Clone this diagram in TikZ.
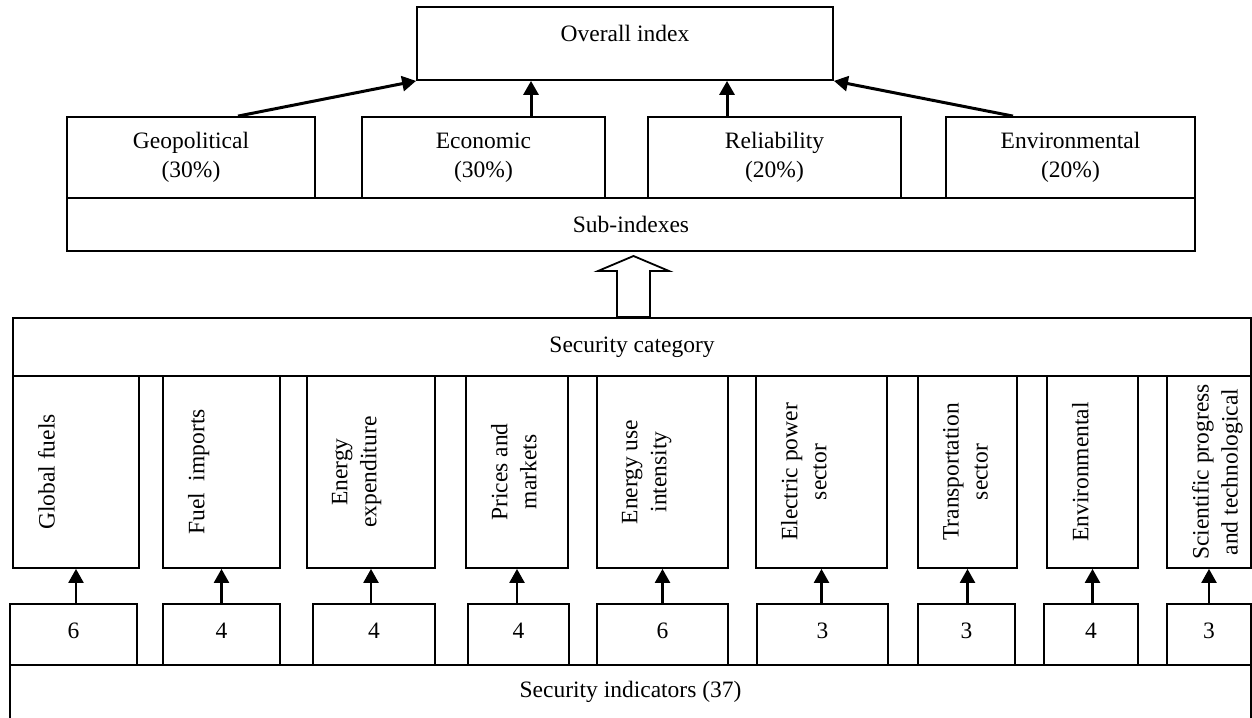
\documentclass[tikz,border=0pt]{standalone}
\usepackage{fontspec}
\setmainfont{Liberation Serif}
\usetikzlibrary{arrows.meta,fit}

\tikzset{
	box/.style={draw, line width=0.9pt, inner sep=0pt},
	vtext/.style={rotate=90, anchor=north, align=center, inner sep=0pt},
	up/.style={-{Triangle[length=7pt,width=7.5pt]}, line width=1.2pt},
}

\begin{document}
\begin{tikzpicture}[x=0.5pt, y=-0.5pt, font=\fontsize{11.75pt}{14.5pt}\selectfont]
	\useasboundingbox (0,0) rectangle (1252,717);
	\clip (0,0) rectangle (1252,717);

	% Overall index
	\node[box, fit={(417,7) (833,80)}] (overall) {};
	\node (overalltxt) at (625,33) {Overall index};

	% Sub-indexes
	\node[box, fit={(67,198) (1195,251)}, label={center:Sub-indexes}] (sub) {};
	\node[box, fit={(67,117) (315,198)}, label={[align=center]center:Geopolitical\\(30\%)}] (geo) {};
	\node[box, fit={(362,117) (605,198)}, label={[align=center]center:Economic\\(30\%)}] (eco) {};
	\node[box, fit={(648,117) (901,198)}, label={[align=center]center:Reliability\\(20\%)}] (rel) {};
	\node[box, fit={(946,117) (1195,198)}, label={[align=center]center:Environmental\\(20\%)}] (env) {};

	\draw[up, line width=1.5pt] ([xshift=23.5pt]geo.north) -- (overall.south west);
	\draw[up, line width=1.5pt] ([xshift=23.75pt]eco.north) -- ([xshift=23.75pt]eco.north |- overall.south);
	\draw[up, line width=1.5pt] ([xshift=-23.75pt]rel.north) -- ([xshift=-23.75pt]rel.north |- overall.south);
	\draw[up, line width=1.5pt] ([xshift=-28.75pt]env.north) -- (overall.south east);

	% Hollow arrow
	\draw[line width=0.9pt, fill=white] (617,317) -- (617,271) -- (598,271) -- (633.5,256)
		-- (669,271) -- (650,271) -- (650,317) -- cycle;

	% Security category
	\node[box, fit={(13,318) (1251,376)}, label={center:Security category}] (seccat) {};

	\node[box, fit={(13,376) (139,568)}] (glob) {};
	\node[box, fit={(163,376) (280,568)}] (fuel) {};
	\node[box, fit={(307,376) (435,568)}] (expend) {};
	\node[box, fit={(466,376) (568,568)}] (price) {};
	\node[box, fit={(597,376) (728,568)}] (use) {};
	\node[box, fit={(756,376) (887,568)}] (power) {};
	\node[box, fit={(918,376) (1017,568)}] (trans) {};
	\node[box, fit={(1047,376) (1138,568)}] (envc) {};
	\node[box, fit={(1167,376) (1251,568)}] (sci) {};

	\node[vtext] (globtxt) at ([xshift=12.75pt]glob.west) {Global fuels};
	\node[vtext] (fueltxt) at ([xshift=12.75pt]fuel.west) {Fuel\ \ imports};
	\node[vtext] (expendtxt) at ([xshift=12.75pt]expend.west) {Energy\\expenditure};
	\node[vtext] (pricetxt) at ([xshift=12.75pt]price.west) {Prices and\\markets};
	\node[vtext] (usetxt) at ([xshift=12.75pt]use.west) {Energy use\\intensity};
	\node[vtext] (powertxt) at ([xshift=12.75pt]power.west) {Electric power\\sector};
	\node[vtext] (transtxt) at ([xshift=12.75pt]trans.west) {Transportation\\sector};
	\node[vtext] (envctxt) at ([xshift=12.75pt]envc.west) {Environmental};
	\node[vtext] (scitxt) at ([xshift=12.75pt]sci.west) {Scientific progress\\and technological};

	% Security indicators
	\node[box, fit={(10,665) (1251,719)}, label={center:Security indicators (37)}] (ind) {};

	\node[box, fit={(10,604) (137,665)}, label={[yshift=2pt]center:6}] (nglob) {};
	\node[box, fit={(163,604) (280,665)}, label={[yshift=2pt]center:4}] (nfuel) {};
	\node[box, fit={(313,604) (435,665)}, label={[yshift=2pt]center:4}] (nexpend) {};
	\node[box, fit={(468,604) (569,665)}, label={[yshift=2pt]center:4}] (nprice) {};
	\node[box, fit={(597,604) (728,665)}, label={[yshift=2pt]center:6}] (nuse) {};
	\node[box, fit={(757,604) (888,665)}, label={[yshift=2pt]center:3}] (npower) {};
	\node[box, fit={(918,604) (1015,665)}, label={[yshift=2pt]center:3}] (ntrans) {};
	\node[box, fit={(1044,604) (1138,665)}, label={[yshift=2pt]center:4}] (nenvc) {};
	\node[box, fit={(1167,604) (1251,665)}, label={[yshift=2pt]center:3}] (nsci) {};

	\draw[up] (glob.south |- nglob.north) -- (glob.south);
	\draw[up] (fuel.south |- nfuel.north) -- (fuel.south);
	\draw[up] (expend.south |- nexpend.north) -- (expend.south);
	\draw[up] (price.south |- nprice.north) -- (price.south);
	\draw[up] (use.south |- nuse.north) -- (use.south);
	\draw[up] (power.south |- npower.north) -- (power.south);
	\draw[up] (trans.south |- ntrans.north) -- (trans.south);
	\draw[up] (envc.south |- nenvc.north) -- (envc.south);
	\draw[up] (sci.south |- nsci.north) -- (sci.south);

\end{tikzpicture}
\end{document}
